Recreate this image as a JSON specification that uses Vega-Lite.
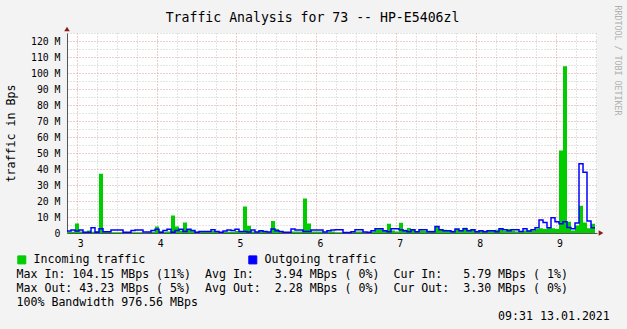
{
  "$schema": "https://vega.github.io/schema/vega-lite/v6.json",
  "width": 530,
  "height": 200,
  "autosize": {"type": "none"},
  "padding": {"left": 67, "top": 33, "right": 30, "bottom": 96},
  "background": "#f3f3f3",
  "title": {
    "text": "Traffic Analysis for 73 -- HP-E5406zl",
    "font": "DejaVu Sans Mono",
    "fontSize": 13.2,
    "fontWeight": "normal",
    "color": "black",
    "anchor": "middle",
    "baseline": "alphabetic",
    "dx": -19.5,
    "dy": 30,
    "offset": 0
  },
  "data": {
    "values": [
      {"t": 2.8786, "in": 0.8, "out": 1.2},
      {"t": 2.9287, "in": 0.8, "out": 1.9},
      {"t": 2.9788, "in": 6, "out": 1.2},
      {"t": 3.0288, "in": 1, "out": 1.9},
      {"t": 3.0789, "in": 0.8, "out": 0.4},
      {"t": 3.129, "in": 1.5, "out": 0.4},
      {"t": 3.1791, "in": 0.8, "out": 3.3},
      {"t": 3.2291, "in": 1.2, "out": 0.5},
      {"t": 3.2792, "in": 37, "out": 2.7},
      {"t": 3.3293, "in": 1.2, "out": 0.8},
      {"t": 3.3794, "in": 0.8, "out": 0.8},
      {"t": 3.4294, "in": 0.5, "out": 1.9},
      {"t": 3.4795, "in": 0.5, "out": 1.9},
      {"t": 3.5296, "in": 0.5, "out": 1.9},
      {"t": 3.5797, "in": 0.3, "out": 0.5},
      {"t": 3.6297, "in": 0.5, "out": 0.5},
      {"t": 3.6798, "in": 0.5, "out": 1.5},
      {"t": 3.7299, "in": 0.5, "out": 1.9},
      {"t": 3.78, "in": 0.5, "out": 1.9},
      {"t": 3.83, "in": 0.3, "out": 0.6},
      {"t": 3.8801, "in": 0.5, "out": 0.6},
      {"t": 3.9302, "in": 0.8, "out": 1.5},
      {"t": 3.9803, "in": 4, "out": 2.3},
      {"t": 4.0303, "in": 1, "out": 0.4},
      {"t": 4.0804, "in": 0.8, "out": 1.5},
      {"t": 4.1305, "in": 1, "out": 2.3},
      {"t": 4.1806, "in": 11, "out": 0.4},
      {"t": 4.2306, "in": 4, "out": 1.5},
      {"t": 4.2807, "in": 1.5, "out": 2.3},
      {"t": 4.3308, "in": 6.5, "out": 1},
      {"t": 4.3809, "in": 2.5, "out": 2.3},
      {"t": 4.4309, "in": 1.5, "out": 1.5},
      {"t": 4.481, "in": 0.8, "out": 0.5},
      {"t": 4.5311, "in": 0.8, "out": 1},
      {"t": 4.5812, "in": 0.8, "out": 1},
      {"t": 4.6312, "in": 0.8, "out": 1},
      {"t": 4.6813, "in": 1.2, "out": 2},
      {"t": 4.7314, "in": 0.8, "out": 1},
      {"t": 4.7815, "in": 0.5, "out": 0.5},
      {"t": 4.8315, "in": 0.8, "out": 1.2},
      {"t": 4.8816, "in": 0.8, "out": 1.8},
      {"t": 4.9317, "in": 0.8, "out": 1.5},
      {"t": 4.9818, "in": 1.2, "out": 2.3},
      {"t": 5.0318, "in": 1, "out": 1},
      {"t": 5.0819, "in": 16.5, "out": 1},
      {"t": 5.132, "in": 4.5, "out": 0.6},
      {"t": 5.1821, "in": 1, "out": 1.9},
      {"t": 5.2321, "in": 0.8, "out": 0.6},
      {"t": 5.2822, "in": 1.5, "out": 1.4},
      {"t": 5.3323, "in": 1, "out": 1},
      {"t": 5.3824, "in": 0.8, "out": 0.6},
      {"t": 5.4324, "in": 7.5, "out": 2.5},
      {"t": 5.4825, "in": 2.5, "out": 1.4},
      {"t": 5.5326, "in": 1, "out": 1},
      {"t": 5.5827, "in": 0.5, "out": 0.4},
      {"t": 5.6327, "in": 0.5, "out": 0.4},
      {"t": 5.6828, "in": 1, "out": 2.5},
      {"t": 5.7329, "in": 1, "out": 1.9},
      {"t": 5.783, "in": 1, "out": 1.9},
      {"t": 5.833, "in": 21.5, "out": 1},
      {"t": 5.8831, "in": 6, "out": 1},
      {"t": 5.9332, "in": 1, "out": 1.9},
      {"t": 5.9833, "in": 1, "out": 1.9},
      {"t": 6.0333, "in": 1, "out": 1.9},
      {"t": 6.0834, "in": 0.5, "out": 0.6},
      {"t": 6.1335, "in": 1, "out": 1.4},
      {"t": 6.1836, "in": 1, "out": 1.9},
      {"t": 6.2336, "in": 0.5, "out": 2},
      {"t": 6.2837, "in": 0.5, "out": 2},
      {"t": 6.3338, "in": 0.3, "out": 0.3},
      {"t": 6.3839, "in": 0.3, "out": 0.3},
      {"t": 6.4339, "in": 0.5, "out": 0.8},
      {"t": 6.484, "in": 1, "out": 2},
      {"t": 6.5341, "in": 1, "out": 2},
      {"t": 6.5842, "in": 0.5, "out": 0.6},
      {"t": 6.6342, "in": 0.3, "out": 0.4},
      {"t": 6.6843, "in": 1, "out": 1.4},
      {"t": 6.7344, "in": 2.3, "out": 2.7},
      {"t": 6.7845, "in": 2.3, "out": 2.7},
      {"t": 6.8345, "in": 1.4, "out": 1.4},
      {"t": 6.8846, "in": 5.8, "out": 0.8},
      {"t": 6.9347, "in": 1.5, "out": 2.7},
      {"t": 6.9848, "in": 1, "out": 2.7},
      {"t": 7.0348, "in": 6.4, "out": 2},
      {"t": 7.0849, "in": 2, "out": 1.4},
      {"t": 7.135, "in": 3.2, "out": 0.8},
      {"t": 7.1851, "in": 2, "out": 2},
      {"t": 7.2351, "in": 1, "out": 0.8},
      {"t": 7.2852, "in": 1.5, "out": 2},
      {"t": 7.3353, "in": 1.4, "out": 2},
      {"t": 7.3854, "in": 1.4, "out": 0.8},
      {"t": 7.4354, "in": 1.4, "out": 0.8},
      {"t": 7.4855, "in": 4, "out": 4},
      {"t": 7.5356, "in": 2, "out": 2},
      {"t": 7.5857, "in": 2, "out": 1.4},
      {"t": 7.6357, "in": 1.4, "out": 1.4},
      {"t": 7.6858, "in": 1.4, "out": 0.8},
      {"t": 7.7359, "in": 2.5, "out": 2.5},
      {"t": 7.786, "in": 1.9, "out": 1.4},
      {"t": 7.836, "in": 3.3, "out": 2.7},
      {"t": 7.8861, "in": 2, "out": 1.4},
      {"t": 7.9362, "in": 2, "out": 2},
      {"t": 7.9863, "in": 1.4, "out": 0.8},
      {"t": 8.0363, "in": 1.4, "out": 1.4},
      {"t": 8.0864, "in": 1.4, "out": 0.8},
      {"t": 8.1365, "in": 1.4, "out": 1.4},
      {"t": 8.1866, "in": 1.4, "out": 1.4},
      {"t": 8.2366, "in": 2, "out": 0.8},
      {"t": 8.2867, "in": 2.5, "out": 2.7},
      {"t": 8.3368, "in": 1.4, "out": 2},
      {"t": 8.3869, "in": 2.5, "out": 1.4},
      {"t": 8.4369, "in": 1.4, "out": 2},
      {"t": 8.487, "in": 1, "out": 2},
      {"t": 8.5371, "in": 1, "out": 1},
      {"t": 8.5872, "in": 1.5, "out": 2.7},
      {"t": 8.6372, "in": 1.5, "out": 1.3},
      {"t": 8.6873, "in": 1.5, "out": 2},
      {"t": 8.7374, "in": 2.5, "out": 3.3},
      {"t": 8.7875, "in": 3, "out": 8.2},
      {"t": 8.8375, "in": 2.5, "out": 6.5},
      {"t": 8.8876, "in": 3, "out": 3.3},
      {"t": 8.9377, "in": 3, "out": 9.6},
      {"t": 8.9878, "in": 2.5, "out": 7},
      {"t": 9.0378, "in": 51.6, "out": 5.8},
      {"t": 9.0879, "in": 104.15, "out": 7},
      {"t": 9.138, "in": 7, "out": 3.5},
      {"t": 9.1881, "in": 1.5, "out": 2.7},
      {"t": 9.2381, "in": 4.7, "out": 6.3},
      {"t": 9.2882, "in": 17, "out": 43.23},
      {"t": 9.3383, "in": 6.6, "out": 38},
      {"t": 9.3884, "in": 3, "out": 7.5},
      {"t": 9.4384, "in": 5.79, "out": 3.3},
      {"t": 9.4885, "in": 5.79, "out": 3.3}
    ]
  },
  "encoding": {
    "x": {
      "field": "t",
      "type": "quantitative",
      "scale": {"domain": [2.8786, 9.5135], "nice": false, "zero": false},
      "axis": {
        "values": [3, 3.25, 3.5, 3.75, 4, 4.25, 4.5, 4.75, 5, 5.25, 5.5, 5.75, 6, 6.25, 6.5, 6.75, 7, 7.25, 7.5, 7.75, 8, 8.25, 8.5, 8.75, 9, 9.25, 9.5],
        "labelExpr": "datum.value % 1 == 0 ? format(datum.value, 'd') : ''",
        "labelOverlap": false,
        "labelFlush": false,
        "labelBound": false,
        "ticks": false,
        "labelPadding": 5,
        "labelOffset": 3.5,
        "labelFont": "DejaVu Sans Mono",
        "labelFontSize": 9.8,
        "labelColor": "black",
        "labelBaseline": "top",
        "grid": true,
        "gridColor": {"condition": {"test": "datum.value % 1 == 0", "value": "#e09a9a"}, "value": "#c8c8c8"},
        "gridDash": [1, 2],
        "gridWidth": 1,
        "domainColor": "#555555",
        "title": [
          "Max\u00a0In:\u00a0104.15\u00a0MBps\u00a0(11%)\u00a0\u00a0Avg\u00a0In:\u00a0\u00a0\u00a03.94\u00a0MBps\u00a0(\u00a00%)\u00a0\u00a0Cur\u00a0In:\u00a0\u00a0\u00a05.79\u00a0MBps\u00a0(\u00a01%)",
          "Max\u00a0Out:\u00a043.23\u00a0MBps\u00a0(\u00a05%)\u00a0\u00a0Avg\u00a0Out:\u00a0\u00a02.28\u00a0MBps\u00a0(\u00a00%)\u00a0\u00a0Cur\u00a0Out:\u00a0\u00a03.30\u00a0MBps\u00a0(\u00a00%)",
          "100%\u00a0Bandwidth\u00a0976.56\u00a0MBps",
          "\u200b\u00a0\u00a0\u00a0\u00a0\u00a0\u00a0\u00a0\u00a0\u00a0\u00a0\u00a0\u00a0\u00a0\u00a0\u00a0\u00a0\u00a0\u00a0\u00a0\u00a0\u00a0\u00a0\u00a0\u00a0\u00a0\u00a0\u00a0\u00a0\u00a0\u00a0\u00a0\u00a0\u00a0\u00a0\u00a0\u00a0\u00a0\u00a0\u00a0\u00a0\u00a0\u00a0\u00a0\u00a0\u00a0\u00a0\u00a0\u00a0\u00a0\u00a0\u00a0\u00a0\u00a0\u00a0\u00a0\u00a0\u00a0\u00a0\u00a0\u00a0\u00a0\u00a0\u00a0\u00a0\u00a0\u00a0\u00a0\u00a0\u00a009:31\u00a013.01.2021"
        ],
        "titleFont": "DejaVu Sans Mono",
        "titleFontSize": 11.6,
        "titleFontWeight": "normal",
        "titleColor": "black",
        "titleAlign": "left",
        "titleAnchor": "start",
        "titleBaseline": "alphabetic",
        "titleX": -51,
        "titleY": 44.2,
        "titleLineHeight": 14
      }
    }
  },
  "layer": [
    {
      "mark": {"type": "area", "interpolate": "step-after", "opacity": 1},
      "encoding": {
        "y": {
          "field": "in",
          "type": "quantitative",
          "scale": {"domain": [0, 125], "nice": false, "zero": true},
          "axis": {
            "values": [0, 5, 10, 15, 20, 25, 30, 35, 40, 45, 50, 55, 60, 65, 70, 75, 80, 85, 90, 95, 100, 105, 110, 115, 120, 125],
            "labelExpr": "datum.value % 10 != 0 ? '' : (datum.value == 0 ? '0\u00a0\u00a0' : datum.value + '\u00a0M')",
            "labelOverlap": false,
            "labelFlush": false,
            "labelBound": false,
            "ticks": false,
            "labelPadding": 7,
            "labelFont": "DejaVu Sans Mono",
            "labelFontSize": 9.8,
            "labelColor": "black",
            "labelBaseline": "middle",
            "grid": true,
            "gridColor": {"condition": {"test": "datum.value % 10 == 0", "value": "#e09a9a"}, "value": "#c8c8c8"},
            "gridDash": [1, 2],
            "gridWidth": 1,
            "domainColor": "#555555",
            "title": "traffic in Bps",
            "titleFont": "DejaVu Sans Mono",
            "titleFontSize": 11.6,
            "titleFontWeight": "normal",
            "titleColor": "black",
            "titleAngle": 270,
            "titleAlign": "center",
            "titleBaseline": "alphabetic",
            "titleX": -53,
            "titleY": 100
          }
        },
        "color": {
          "datum": "Incoming traffic",
          "scale": {"domain": ["Incoming traffic", "Outgoing traffic"], "range": ["#00cc00", "#0000ff"]},
          "legend": {
            "orient": "none",
            "legendX": -51,
            "legendY": 221,
            "direction": "horizontal",
            "title": null,
            "padding": 0,
            "symbolType": "square",
            "symbolSize": 64,
            "symbolStrokeWidth": 1,
            "symbolStrokeColor": "black",
            "labelFont": "DejaVu Sans Mono",
            "labelFontSize": 11.6,
            "labelColor": "black",
            "labelOffset": 6,
            "labelLimit": 400,
            "columnPadding": 100,
            "encode": {
              "symbols": {
                "update": {
                  "fill": {"scale": "color", "field": "value"},
                  "stroke": {"value": "black"},
                  "strokeWidth": {"value": 1},
                  "opacity": {"value": 1}
                }
              }
            }
          }
        }
      }
    },
    {
      "mark": {"type": "line", "interpolate": "step-after", "strokeWidth": 1.5},
      "encoding": {
        "y": {
          "field": "out",
          "type": "quantitative",
          "scale": {"domain": [0, 125], "nice": false, "zero": true},
          "axis": {
            "orient": "right",
            "labels": false,
            "ticks": false,
            "domain": false,
            "grid": false,
            "title": "RRDTOOL / TOBI OETIKER",
            "titleFont": "DejaVu Sans Mono",
            "titleFontSize": 8.3,
            "titleFontWeight": "normal",
            "titleColor": "#b0b0b0",
            "titleAngle": 90,
            "titleAlign": "left",
            "titleBaseline": "alphabetic",
            "titleX": 17,
            "titleY": -28
          }
        },
        "color": {"datum": "Outgoing traffic"}
      }
    },
    {
      "data": {"values": [{"t": 2.8786, "v": 127.5, "dir": "up"}, {"t": 9.5636, "v": 0, "dir": "right"}]},
      "mark": {"type": "point", "filled": true, "color": "#8b1a1a", "size": 30, "opacity": 1, "clip": false},
      "encoding": {
        "y": {"field": "v", "type": "quantitative", "axis": null},
        "shape": {"field": "dir", "type": "nominal", "scale": {"domain": ["up", "right"], "range": ["triangle-up", "triangle-right"]}, "legend": null}
      }
    }
  ],
  "resolve": {"axis": {"y": "independent"}},
  "config": {
    "view": {"fill": "white", "stroke": null},
    "font": "DejaVu Sans Mono"
  }
}
